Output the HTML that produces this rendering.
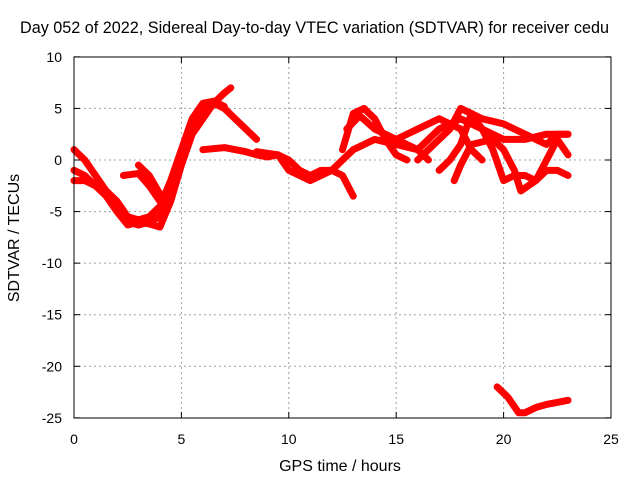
<!DOCTYPE html>
<html><head><meta charset="utf-8"><style>
body{margin:0;background:#fff;}
svg{display:block;font-family:"Liberation Sans",sans-serif;font-size:14px;}
</style></head><body>
<svg id="chart" width="640" height="480">
<text x="20" y="33" font-size="16.2">Day 052 of 2022, Sidereal Day-to-day VTEC variation (SDTVAR) for receiver cedu</text>
<text x="340" y="471" font-size="16" text-anchor="middle">GPS time / hours</text>
<text transform="translate(19,238) rotate(-90)" font-size="16" text-anchor="middle">SDTVAR / TECUs</text>
<g id="grid"></g><g id="series"></g>
<rect x="74" y="57" width="537" height="361" fill="none" stroke="#000" stroke-width="1"/>
<g id="ticks"></g>
</svg>
<script>
const xTicks=[0,5,10,15,20,25];
const yTicks=[10,5,0,-5,-10,-15,-20,-25];
const s1=[[0,1],[0.5,0],[1,-1.5],[1.5,-3],[2,-4.5],[2.5,-6],[3,-6.3],[3.5,-6],[4,-5.5],[4.5,-3],[5,0],[5.5,3],[6,5],[6.5,5.5],[7,5],[7.5,4],[8,3],[8.5,2]];
const s2=[[0,-1],[0.5,-1.5],[1,-2.5],[1.5,-3.5],[2,-5],[2.5,-6.3],[3,-6],[3.5,-6.2],[4,-6.5],[4.5,-4],[5,-0.5],[5.5,2.5],[6,4],[6.5,5.5],[7,6.5],[7.3,7]];
const s3=[[0,-2],[0.5,-2],[1,-2.5],[1.5,-3],[2,-4],[2.5,-5.5],[3,-5.8],[3.5,-5.5],[4,-4.5],[4.5,-2],[5,1],[5.5,4],[6,5.5],[6.5,5.7],[7,5.2]];
const s4=[[2.3,-1.5],[3,-1.3],[3.5,-2.5],[4,-4],[4.5,-3]];
const s5=[[3,-0.5],[3.5,-1.5],[4,-3.3],[4.5,-3.5]];
const s6=[[6,1],[7,1.2],[8,0.8],[8.5,0.5],[9,0.3],[9.5,0.5],[10,0],[10.5,-1],[11,-1.5],[11.5,-1],[12,-1],[12.5,-1.5],[13,-3.5]];
const s7=[[8.5,0.8],[9.5,0.5],[10,-1],[11,-2],[12,-1],[13,1],[14,2],[15,1.5],[16,1],[17,3],[18,4],[19,3],[20,2],[21,2],[22,2.5],[23,2.5]];
const s8=[[12.5,1],[13,4.5],[13.5,5],[14,4],[14.5,2],[15,0.5],[15.5,0]];
const s9=[[12.7,3],[13.3,4.3],[14,3],[15,2],[16,1],[16.5,0]];
const s10=[[15,2],[16,3],[17,4],[18,3],[18.5,1],[19,0]];
const s11=[[16,0],[17,2],[17.5,3],[18,5],[18.5,4.5],[19,4],[20,3.5],[21,2.5],[22,1.5],[22.5,2.5],[23,2.5]];
const s12=[[17,-1],[17.5,0],[18,1.5],[18.5,4.5],[19,3],[19.5,1],[20,-2],[20.5,-1.5],[21,-1.5],[21.5,-2],[22,-1],[22.5,-1],[23,-1.5]];
const s13=[[17.7,-2],[18,-0.5],[18.5,1.5],[19.5,2],[20,1],[20.5,-1],[20.8,-3],[21.5,-2],[22,0],[22.5,2],[23,0.5]];
const s14=[[19.7,-22],[20.2,-23],[20.7,-24.5],[21,-24.5],[21.5,-24],[22,-23.7],[23,-23.3]];
const allSeries=[s1,s2,s3,s4,s5,s6,s7,s8,s9,s10,s11,s12,s13,s14];
const NS='http://www.w3.org/2000/svg';
const X=v=>74+v*537/25, Y=v=>160-v*361/35;
const grid=document.getElementById('grid'),ticks=document.getElementById('ticks'),ser=document.getElementById('series');
function mk(t,a,p){const e=document.createElementNS(NS,t);for(const k in a)e.setAttribute(k,a[k]);p.appendChild(e);return e;}
xTicks.forEach(t=>{
 if(t>0&&t<25){const g=mk('line',{x1:X(t),x2:X(t),y1:57,y2:418,stroke:'#a0a0a0','stroke-dasharray':'2,3'},grid);
 
 }
 const l=mk('text',{x:X(t),y:444,'text-anchor':'middle'},ticks);l.textContent=t;
 
 
 mk('line',{x1:X(t),x2:X(t),y1:418,y2:412,stroke:'#000'},ticks);
 mk('line',{x1:X(t),x2:X(t),y1:57,y2:63,stroke:'#000'},ticks);
});
yTicks.forEach(t=>{
 if(t<10&&t>-25){const g=mk('line',{x1:74,x2:611,y1:Y(t),y2:Y(t),stroke:'#a0a0a0','stroke-dasharray':'2,3'},grid);
 
 }
 const l=mk('text',{x:62,y:Y(t)+5,'text-anchor':'end'},ticks);l.textContent=t;
 
 
 mk('line',{x1:74,x2:80,y1:Y(t),y2:Y(t),stroke:'#000'},ticks);
 mk('line',{x1:611,x2:605,y1:Y(t),y2:Y(t),stroke:'#000'},ticks);
});
allSeries.forEach((s,i)=>{
 const p=mk('polyline',{points:s.map(d=>X(d[0])+','+Y(d[1])).join(' '),fill:'none',stroke:'#f00','stroke-width':7,'stroke-linejoin':'round','stroke-linecap':'round'},ser);
 
 
});
</script>
</body></html>
